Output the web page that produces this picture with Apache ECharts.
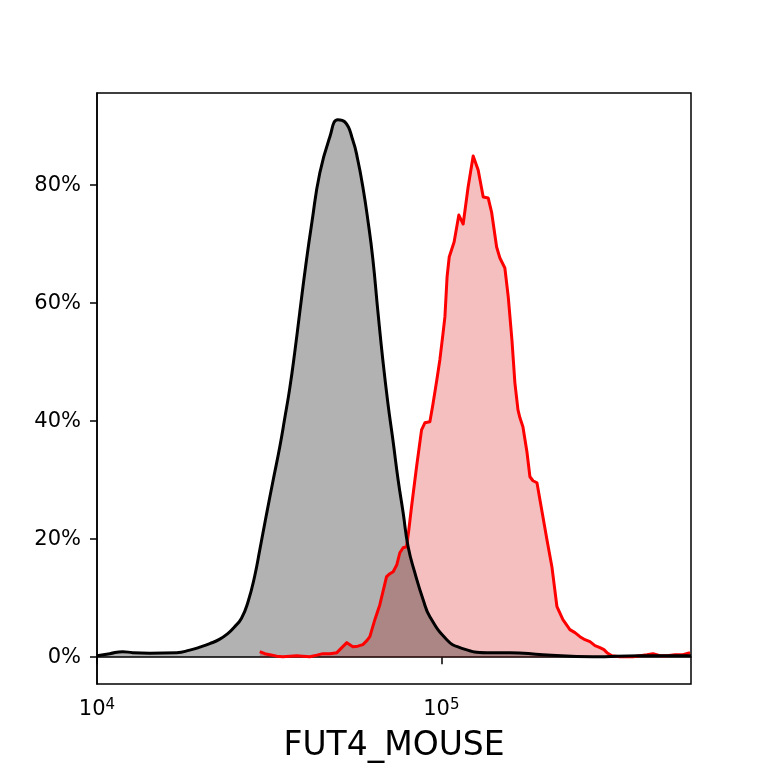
<!DOCTYPE html>
<html>
<head>
<meta charset="utf-8">
<script src="https://cdn.jsdelivr.net/npm/echarts@6/dist/echarts.min.js"></script>
<style>
    html, body { margin: 0; padding: 0; background: #fff; }
    #hist { width: 768px; height: 768px; }
</style>
</head>
<body>
<div id="hist"></div>
<script>
// 数据：荧光强度 (对数轴) 与百分比
var blackX = [10000, 10890, 11880, 12700, 14230, 17040, 18590, 19880, 21260, 22730, 23970, 24960, 26280, 27460,
    28720, 29700, 31060, 32450, 33950, 35110, 36300, 37530, 38810, 40400, 42050, 44360, 47430, 50040, 52440, 55330,
    57210, 59150, 61160, 63240, 65410, 67600, 69950, 72440, 74880, 77450, 80080, 83750, 88540, 92600, 103700, 113200,
    135600, 158100, 197200, 275500, 377300, 530800];
var blackY = [0.25, 0.59, 0.93, 0.76, 0.68, 0.76, 1.19, 1.69, 2.29, 3.05, 3.98, 5.00, 6.60, 9.40,
    13.80, 18.20, 24.20, 29.90, 35.65, 40.55, 45.63, 51.73, 58.50, 66.46, 73.57, 82.04, 88.13, 91.05, 90.7, 87.6,
    84.2, 79.7, 74.1, 67.5, 58.6, 50.4, 43.0, 36.5, 30.06, 24.47, 18.71, 14.31, 9.74, 6.86, 2.96, 1.61,
    0.76, 0.76, 0.42, 0.08, 0.25, 0.25];
var redX = [29700, 30710, 31760, 33270, 34630, 36300, 38040, 39590, 41500, 43490,
    45270, 47440, 49710, 51740, 53150, 54230, 55330, 57210, 59150, 60760,
    61990, 64100, 66280, 69320, 70870, 72440, 74260, 75760, 77450, 79230,
    80460, 81920, 84720, 87600, 89560, 92610, 94470, 97030, 98990, 101000,
    102400, 103900, 105400, 108900, 112400, 115700, 119600, 123700, 127900, 132300,
    136800, 139900, 144700, 147900, 152900, 156400, 160300, 163500, 166900, 169100,
    172500, 177200, 180800, 184500, 189500, 193300, 197200, 202600, 209400, 216600,
    225400, 236200, 244300, 252600, 261200, 270100, 279300, 288800, 296600, 302600,
    312800, 330000, 360100, 377300, 395400, 411700, 431400, 452000, 476900, 503000, 527200];
var redY = [0.93, 0.59, 0.42, 0.17, 0.08, 0.17, 0.25, 0.17, 0.08, 0.34,
    0.59, 0.59, 0.76, 1.78, 2.46, 2.12, 1.78, 1.86, 2.12, 2.79,
    3.47, 6.35, 8.89, 13.63, 14.14, 14.48, 15.66, 17.69, 18.54, 18.71,
    21.59, 25.48, 32.26, 38.52, 39.71, 39.88, 42.76, 46.99, 50.37, 54.61,
    57.65, 64.43, 67.81, 70.35, 74.92, 73.40, 79.66, 84.91, 82.54, 77.97,
    77.80, 75.43, 69.50, 67.64, 65.95, 61.04, 53.76, 46.48, 41.91, 40.56,
    39.03, 34.80, 30.57, 29.89, 29.55, 26.67, 23.79, 19.90, 15.33, 8.55,
    6.35, 4.66, 4.15, 3.47, 2.96, 2.62, 1.95, 1.61, 1.27, 0.76,
    0.25, 0.08, 0.08, 0.25, 0.42, 0.59, 0.25, 0.25, 0.42, 0.42, 0.76];
var xTicks = [10000, 100000];
var yTicks = [0, 20, 40, 60, 80];
var xName = 'FUT4_MOUSE';

(function() {
    //1.实例化对象
    var myChart = echarts.init(document.querySelector("#hist"));
    var zip = function(xs, ys) {
        return xs.map(function(x, i) { return [x, ys[i]]; });
    };
    var blackData = zip(blackX, blackY);
    var redData = zip(redX, redY);
    var font = 'DejaVu Sans';
    //2.指定配置项和数据
    var option = {
        animation: false,
        backgroundColor: '#fff',
        grid: {
            left: 97,
            right: 77,
            top: 93,
            bottom: 84,
            show: true,
            borderColor: '#000',
            borderWidth: 1.5
        },
        xAxis: {
            type: 'log',
            logBase: 10,
            min: 10000,
            max: 530800,
            name: xName,
            nameLocation: 'middle',
            nameGap: 46,
            nameTextStyle: { fontFamily: font, fontSize: 33, color: '#000' },
            axisLine: { show: true, lineStyle: { color: '#000', width: 1.5 } },
            axisTick: { show: true, length: 7, lineStyle: { color: '#000', width: 1.5 }, customValues: xTicks },
            splitLine: { show: false },
            minorTick: { show: false },
            axisLabel: {
                customValues: xTicks,
                margin: 14,
                formatter: function(v) {
                    return '{b|10}{s|' + Math.round(Math.log(v) / Math.LN10) + '}';
                },
                rich: {
                    b: { fontFamily: font, fontSize: 21, color: '#000', lineHeight: 24 },
                    s: { fontFamily: font, fontSize: 15, color: '#000', lineHeight: 14, verticalAlign: 'top' }
                }
            }
        },
        yAxis: {
            type: 'value',
            min: -4.55,
            max: 95.6,
            axisLine: { show: true, lineStyle: { color: '#000', width: 1.5 } },
            axisTick: { show: true, length: 7, lineStyle: { color: '#000', width: 1.5 }, customValues: yTicks },
            splitLine: { show: false },
            axisLabel: {
                customValues: yTicks,
                margin: 16,
                fontFamily: font,
                fontSize: 21,
                color: '#000',
                formatter: '{value}%'
            }
        },
        series: [
            // 填充区域
            {
                type: 'line',
                data: redData,
                showSymbol: false,
                lineStyle: { width: 0 },
                areaStyle: { color: '#dd0000', opacity: 0.25 },
                z: 1
            },
            {
                type: 'line',
                data: blackData,
                smooth: 0.5,
                showSymbol: false,
                lineStyle: { width: 0 },
                areaStyle: { color: '#000', opacity: 0.3 },
                z: 2
            },
            // 曲线
            {
                type: 'line',
                data: redData,
                showSymbol: false,
                lineStyle: { color: '#ff0000', width: 3, join: 'round' },
                z: 3
            },
            {
                type: 'line',
                data: blackData,
                smooth: 0.5,
                showSymbol: false,
                lineStyle: { color: '#000', width: 3 },
                z: 4
            }
        ]
    };
    //3.把配置项给实例对象
    myChart.setOption(option);
    //4.让图表跟随屏幕自动去适应
    window.addEventListener("resize", function() {
        myChart.resize();
    });
})();
</script>
</body>
</html>
